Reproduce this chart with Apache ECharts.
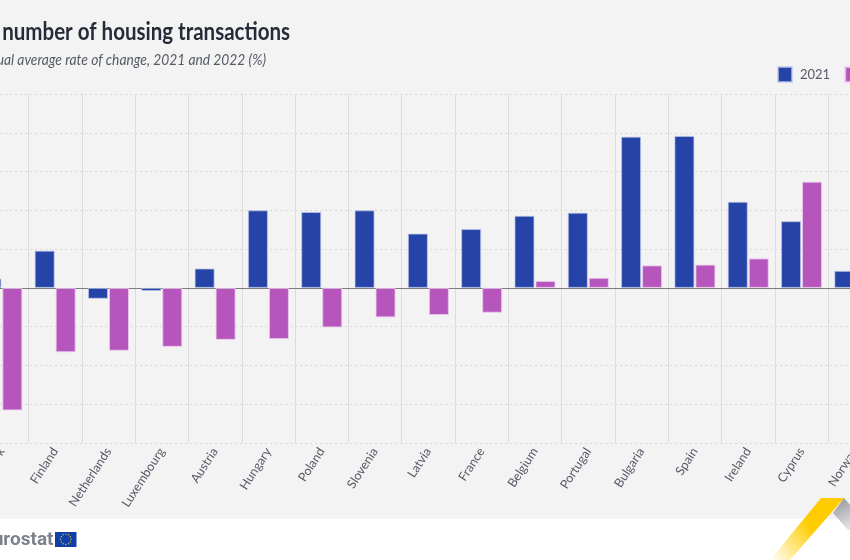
<!DOCTYPE html>
<html>
<head>
<meta charset="utf-8">
<style>html,body{margin:0;padding:0;background:#fff}#c{width:850px;height:560px}</style>
<script src="https://cdn.jsdelivr.net/npm/echarts@6/dist/echarts.min.js"></script>
</head>
<body>
<div id="c"></div>
<script>
const categories = ['Denmark','Finland','Netherlands','Luxembourg','Austria','Hungary','Poland','Slovenia','Latvia','France','Belgium','Portugal','Bulgaria','Spain','Ireland','Cyprus','Norway'];
const values2021 = [1.2,4.8,-1.4,-0.4,2.5,10.0,9.8,10.0,7.0,7.6,9.3,9.7,19.5,19.6,11.1,8.6,2.2];
const values2022 = [-15.8,-8.3,-8.1,-7.6,-6.7,-6.6,-5.1,-3.8,-3.5,-3.2,0.9,1.3,2.9,3.0,3.8,13.7,null];
const titleText = 'Total number of housing transactions';
const subtitleText = 'Annual average rate of change, 2021 and 2022 (%)';
const face = 'Lato,"Open Sans",sans-serif';

const stars = [];
for (let i = 0; i < 12; i++) {
  const a = i / 12 * Math.PI * 2;
  stars.push({type:'circle', shape:{cx:65.8+5.2*Math.cos(a), cy:539.3+5.2*Math.sin(a), r:0.7}, style:{fill:'#d9c23a'}, z:3});
}

const chart = echarts.init(document.getElementById('c'));
chart.setOption({
  animation:false,
  backgroundColor:'#ffffff',
  legend:{
    left:777, top:66, width:200, padding:0, itemWidth:14, itemHeight:15, itemGap:14,
    icon:'rect',
    textStyle:{fontFamily:face,fontSize:13,color:'#555a66',padding:[0,0,0,3]},
    data:['2021','2022']
  },
  grid:{left:-24.8, right:-31.5, top:94, bottom:117, containLabel:false, outerBoundsMode:'none'},
  xAxis:[
    {
      type:'category', data:categories, position:'bottom',
      axisLine:{show:false,onZero:false}, axisTick:{show:false},
      axisLabel:{interval:0, rotate:57, margin:6, fontFamily:face, fontSize:12.5, color:'#555a66'},
      splitLine:{show:true, interval:0, lineStyle:{color:'#dcdcdc',width:1}}
    },
    {
      type:'category', data:categories, position:'bottom',
      axisLine:{show:true,onZero:true,lineStyle:{color:'#7d7d7d',width:1}},
      axisTick:{show:false}, axisLabel:{show:false}, splitLine:{show:false}
    }
  ],
  yAxis:{
    type:'value', min:-20, max:25, interval:5,
    axisLine:{show:false}, axisTick:{show:false}, axisLabel:{show:false},
    splitLine:{show:true, lineStyle:{color:'#d6d6d6',type:[2,3],width:1}}
  },
  series:[
    {name:'2021', type:'bar', data:values2021, barWidth:20, barGap:'5%',
     itemStyle:{color:'#2644A7',borderColor:'rgba(190,200,235,0.7)',borderWidth:1}},
    {name:'2022', type:'bar', data:values2022, barWidth:20, barGap:'5%',
     itemStyle:{color:'#B656BD',borderColor:'rgba(235,205,238,0.8)',borderWidth:1}}
  ],
  graphic:{elements:[
    {type:'rect', shape:{x:0,y:0,width:850,height:519}, style:{fill:'#f3f3f3'}, z:-10, silent:true},
    {type:'text', x:290, y:32, scaleX:0.82, style:{text:titleText, x:0, y:0, align:'right', verticalAlign:'middle', fontFamily:face, fontWeight:'bold', fontSize:25, fill:'#262b38'}, z:3},
    {type:'text', x:266, y:60, scaleX:0.92, style:{text:subtitleText, x:0, y:0, align:'right', verticalAlign:'middle', fontFamily:face, fontStyle:'italic', fontSize:15, fill:'#555a66'}, z:3},
    {type:'polygon', shape:{points:[[844,498],[833,513],[848,530],[850,530],[850,505]]},
     style:{fill:{type:'linear',x:0,y:0,x2:1,y2:1,colorStops:[{offset:0,color:'#8f929c'},{offset:1,color:'#e8e8ea'}]}}, z:2},
    {type:'polygon', shape:{points:[[821,498],[844,498],[790,560],[770,560]]},
     style:{fill:{type:'linear',x:1,y:0,x2:0,y2:1,colorStops:[{offset:0,color:'#ffcc00'},{offset:0.45,color:'#ffcc00'},{offset:1,color:'#ffffff'}]}}, z:2},
    {type:'text', style:{text:'eurostat', x:53.5, y:540, align:'right', verticalAlign:'middle', fontFamily:'Roboto,sans-serif', fontWeight:'bold', fontSize:19, fill:'#7d818c'}, z:3},
    {type:'rect', shape:{x:55,y:532,width:21.5,height:15}, style:{fill:'#0f3fa8'}, z:3}
  ].concat(stars)}
});
</script>
</body>
</html>
